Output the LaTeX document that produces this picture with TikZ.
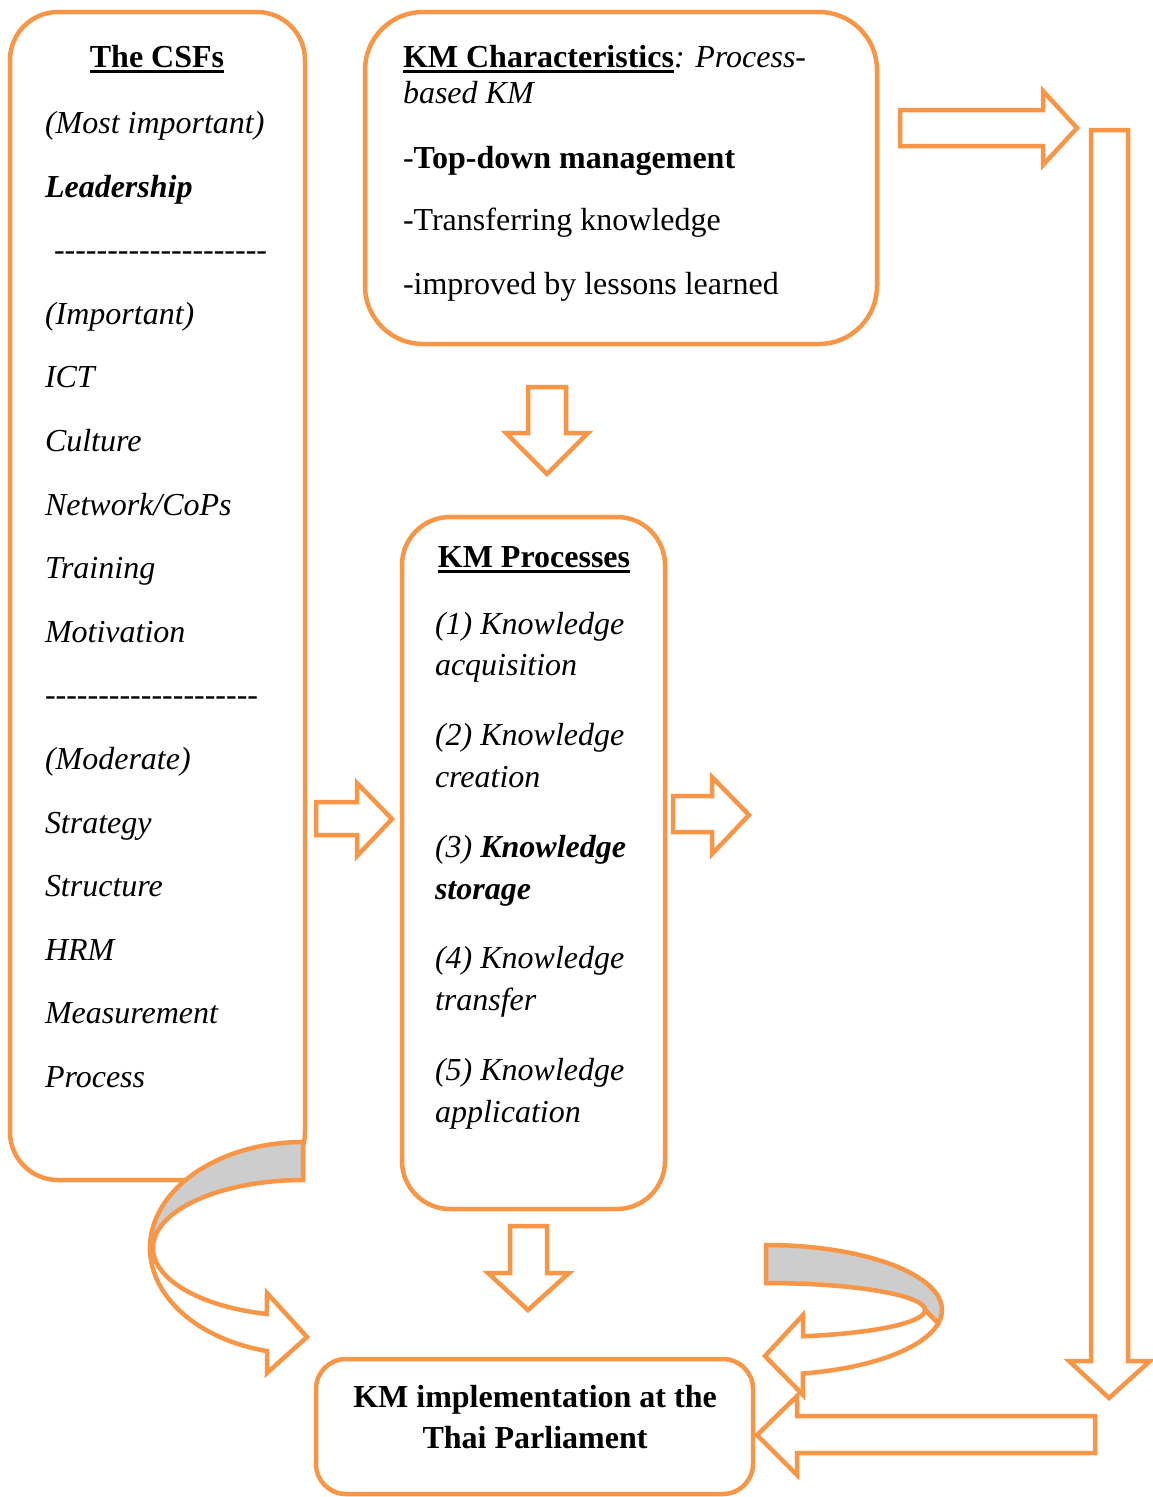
\documentclass[tikz,border=0pt]{standalone}
\usepackage{fontspec}
\setmainfont{Liberation Serif}
\definecolor{kmorange}{HTML}{F79646}
\definecolor{kmgrey}{HTML}{CDCDCD}
% thick underline drawn under a word
\newcommand\ulword[1]{\setbox0=\hbox{#1}\rlap{\rule[-5.5pt]{\wd0}{2.7pt}}\box0}
% a row of separate hyphens (kerns keep them from joining into dashes)
\newcommand\dashrow[1]{\count255=0 \loop\ifnum\count255<#1 -\kern0pt\advance\count255 by 1 \repeat}

\tikzset{
  x=1pt, y=-1pt,
  kmbox/.style={rectangle, draw=kmorange, line width=4.5pt, fill=white,
                inner sep=0pt, outer sep=0pt, anchor=north west},
  blockarrow/.style={draw=kmorange, line width=4.5pt, fill=white, line join=miter},
  bandback/.style={draw=kmorange, line width=4.5pt, fill=kmgrey, line join=miter},
  bandfront/.style={draw=kmorange, line width=4.5pt, fill=white, line join=miter},
  txt/.style={inner sep=0pt, outer sep=0pt, anchor=base west,
              font=\fontsize{32}{38}\selectfont},
  ctxt/.style={txt, anchor=base},
}

\begin{document}
\begin{tikzpicture}
\useasboundingbox (0,0) rectangle (1152,1497);
\fill[white] (0,0) rectangle (1152,1497);

% ---------- boxes ----------
\node[kmbox, minimum width=295pt, minimum height=1168pt, rounded corners=48pt] (csf) at (10,12) {};
\node[kmbox, minimum width=512pt, minimum height=332pt, rounded corners=58pt] (chr) at (365,12) {};
\node[kmbox, minimum width=263pt, minimum height=692pt, rounded corners=48pt] (proc) at (402,517) {};
\node[kmbox, minimum width=437pt, minimum height=135pt, rounded corners=30pt] (impl) at (316,1359) {};

% ---------- critical success factors ----------
\node[ctxt] (csfT) at (157,67) {\bfseries\ulword{The CSFs}};
\node[txt] (csf1) at (45,133) {\itshape (Most important)};
\node[txt] (csf2) at (45,197) {\bfseries\itshape Leadership};
\node[txt] (csf3) at (54,260) {\itshape\dashrow{20}};
\node[txt] (csf4) at (45,324) {\itshape (Important)};
\node[txt] (csf5) at (45,387) {\itshape ICT};
\node[txt] (csf6) at (45,451) {\itshape Culture};
\node[txt] (csf7) at (45,515) {\itshape Network/CoPs};
\node[txt] (csf8) at (45,578) {\itshape Training};
\node[txt] (csf9) at (45,642) {\itshape Motivation};
\node[txt] (csf10) at (45,705) {\itshape\dashrow{20}};
\node[txt] (csf11) at (45,769) {\itshape (Moderate)};
\node[txt] (csf12) at (45,833) {\itshape Strategy};
\node[txt] (csf13) at (45,896) {\itshape Structure};
\node[txt] (csf14) at (45,960) {\itshape HRM};
\node[txt] (csf15) at (45,1023) {\itshape Measurement};
\node[txt] (csf16) at (45,1087) {\itshape Process};

% ---------- KM characteristics ----------
\node[txt] (ch1) at (403,67) {{\bfseries\ulword{KM Characteristics}}\textit{: Process-}};
\node[txt] (ch2) at (403,103) {\itshape based KM};
\node[txt] (ch3) at (403,168) {-\textbf{Top-down management}};
\node[txt] (ch4) at (403,230) {-Transferring knowledge};
\node[txt] (ch5) at (403,294) {-improved by lessons learned};

% ---------- KM processes ----------
\node[ctxt] (prT) at (534,567) {\bfseries\ulword{KM Processes}};
\node[txt] (p1a) at (435,634) {\itshape (1) Knowledge};
\node[txt] (p1b) at (435,675) {\itshape acquisition};
\node[txt] (p2a) at (435,745) {\itshape (2) Knowledge};
\node[txt] (p2b) at (435,787) {\itshape creation};
\node[txt] (p3a) at (435,857) {\itshape (3) \bfseries Knowledge};
\node[txt] (p3b) at (435,899) {\bfseries\itshape storage};
\node[txt] (p4a) at (435,968) {\itshape (4) Knowledge};
\node[txt] (p4b) at (435,1010) {\itshape transfer};
\node[txt] (p5a) at (435,1080) {\itshape (5) Knowledge};
\node[txt] (p5b) at (435,1122) {\itshape application};

% ---------- implementation ----------
\node[ctxt] (im1) at (535,1407) {\bfseries KM implementation at the};
\node[ctxt] (im2) at (535,1448) {\bfseries Thai Parliament};

% ---------- block arrows ----------
% right, beside the characteristics box
\draw[blockarrow] (900,110) -- (1043,110) -- (1043,91) -- (1077,128) -- (1043,165) -- (1043,146) -- (900,146) -- cycle;
% long arrow down the right side
\draw[blockarrow] (1091,130) -- (1128,130) -- (1128,1361) -- (1150,1361) -- (1109,1398) -- (1069,1361) -- (1091,1361) -- cycle;
% back towards the implementation box
\draw[blockarrow] (1095,1416) -- (1095,1453) -- (797,1453) -- (797,1475) -- (757,1435) -- (797,1396) -- (797,1416) -- cycle;
% down from the characteristics box
\draw[blockarrow] (528,387) -- (566,387) -- (566,433) -- (588,433) -- (547,474) -- (506,433) -- (528,433) -- cycle;
% CSFs into processes
\draw[blockarrow] (316,802) -- (357,802) -- (357,783) -- (392,819) -- (357,856) -- (357,835) -- (316,835) -- cycle;
% out of the processes box
\draw[blockarrow] (673,796) -- (712,796) -- (712,777) -- (749,815) -- (712,854) -- (712,832) -- (673,832) -- cycle;
% down from the processes box
\draw[blockarrow] (510,1226) -- (547,1226) -- (547,1273) -- (569,1273) -- (528,1310) -- (488,1273) -- (510,1273) -- cycle;

% ---------- curved arrow, left ----------
\draw[bandback]
  plot[domain=-90:-180, samples=60] ({303+153*cos(\x)},{1248+106*sin(\x)})
  -- plot[domain=-180:-90, samples=60] ({303+150*cos(\x)},{1248+68*sin(\x)})
  -- cycle;
\draw[bandfront]
  plot[domain=180:103.6, samples=60] ({303+153*cos(\x)},{1248+106*sin(\x)})
  -- (267,1373) -- (307,1337) -- (267,1293)
  -- plot[domain=103.9:180, samples=60] ({303+150*cos(\x)},{1248+68*sin(\x)})
  -- cycle;

% ---------- curved arrow, right ----------
\draw[bandback]
  plot[domain=-90:12, samples=60] ({766+176*cos(\x)},{1310+65*sin(\x)})
  -- (925,1310)
  -- plot[domain=0:-90, samples=60] ({766+159*cos(\x)},{1310+27*sin(\x)})
  -- cycle;
\draw[bandfront]
  plot[domain=0:76.5, samples=60] ({766+159*cos(\x)},{1310+27*sin(\x)})
  -- (803,1315) -- (765,1356) -- (803,1395)
  -- plot[domain=77.9:12, samples=60] ({766+176*cos(\x)},{1310+65*sin(\x)})
  -- cycle;
\end{tikzpicture}
\end{document}
